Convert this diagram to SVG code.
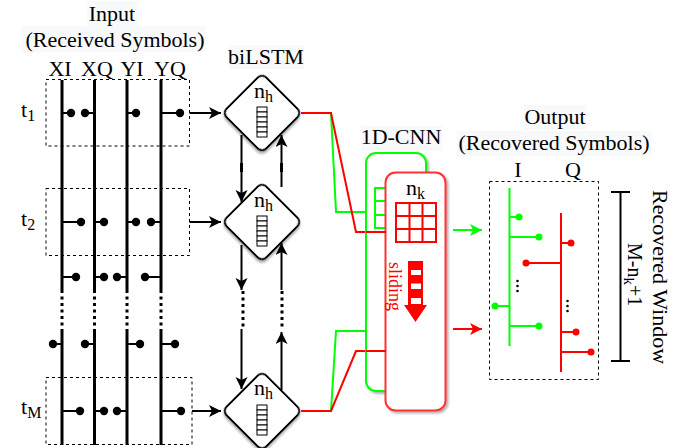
<svg xmlns="http://www.w3.org/2000/svg" width="693" height="448" viewBox="0 0 693 448">
<style>
text{font-family:"Liberation Serif","Times New Roman",serif;font-size:22px;fill:#000}
.lab{fill:#f8f9fa}
.box{fill:none;stroke:#000;stroke-width:1;stroke-dasharray:3 3}
.sym{fill:none;stroke:#000;stroke-width:3}
.dotted{fill:none;stroke:#000;stroke-width:3;stroke-dasharray:3 3.5}
.st{fill:none;stroke:#000;stroke-width:2}
.k{fill:#000}
.arr{fill:none;stroke:#000;stroke-width:2;marker-end:url(#ah)}
.dia{fill:#fff;stroke:#000;stroke-width:2;filter:url(#sh)}
.cell{fill:#fff;stroke:#000;stroke-width:1}
.g{fill:none;stroke:#0f0;stroke-width:2}
.r{fill:none;stroke:#f00;stroke-width:2}
.gd{fill:#0f0}.rd{fill:#f00}
</style>
<defs>
<marker id="ah" markerUnits="userSpaceOnUse" markerWidth="14" markerHeight="14" refX="12" refY="6" orient="auto"><path d="M0 0L12 6L0 12L3 6Z" fill="#000"/></marker>
<marker id="ag" markerUnits="userSpaceOnUse" markerWidth="14" markerHeight="14" refX="12" refY="6" orient="auto"><path d="M0 0L12 6L0 12L3 6Z" fill="#0f0"/></marker>
<marker id="ar" markerUnits="userSpaceOnUse" markerWidth="14" markerHeight="14" refX="12" refY="6" orient="auto"><path d="M0 0L12 6L0 12L3 6Z" fill="#f00"/></marker>
<filter id="sh" x="-20%" y="-20%" width="150%" height="150%"><feDropShadow dx="2" dy="2" stdDeviation="0.8" flood-color="#000" flood-opacity="0.3"/></filter>
<g id="stack"><rect class="cell" x="0" y="0" width="10" height="5"/><rect class="cell" x="0" y="5" width="10" height="5"/><rect class="cell" x="0" y="10" width="10" height="5"/><rect class="cell" x="0" y="15" width="10" height="5"/><rect class="cell" x="0" y="20" width="10" height="5"/><rect class="cell" x="0" y="25" width="10" height="5"/></g>
</defs>
<rect width="693" height="448" fill="#fff"/>
<g id="input">
<rect class="lab" x="87" y="1" width="51" height="25"/><rect class="lab" x="21" y="26" width="184" height="26"/>
<text x="112" y="21" text-anchor="middle">Input</text>
<text x="115" y="47" text-anchor="middle">(Received Symbols)</text>
<text x="60" y="76" text-anchor="middle">XI</text><text x="97" y="76" text-anchor="middle">XQ</text><text x="132" y="76" text-anchor="middle">YI</text><text x="170" y="76" text-anchor="middle">YQ</text>
<text x="21" y="117">t<tspan font-size="16" dy="4">1</tspan></text>
<text x="21" y="226">t<tspan font-size="16" dy="4">2</tspan></text>
<text x="21" y="414">t<tspan font-size="16" dy="4">M</tspan></text>
<rect class="box" x="46" y="79.500" width="143.500" height="66.500"/><rect class="box" x="46" y="188.500" width="143.500" height="67"/><rect class="box" x="46" y="377.500" width="146" height="67"/>
<path class="sym" d="M62 80V290M94.500 80V290M127 80V290M161 80V290M62 329V445M94.500 329V445M127 329V445M161 329V445"/>
<path class="dotted" d="M62 290V329M94.500 290V329M127 290V329M161 290V329"/>
<path class="st" d="M62 113H71M94.500 113H85M127 113H136M161 113H180M62 222H81M94.500 222H104M127 222H136M161 222H151M62 277H76M94.500 277H104M127 277H117M161 277H145M62 344H53M94.500 344H85M127 344H140M161 344H175M62 411H80M94.500 411H104M127 411H117M161 411H181"/>
<g class="k"><circle cx="71" cy="113" r="4.200"/><circle cx="85" cy="113" r="4.200"/><circle cx="136" cy="113" r="4.200"/><circle cx="180" cy="113" r="4.200"/><circle cx="81" cy="222" r="4.200"/><circle cx="104" cy="222" r="4.200"/><circle cx="136" cy="222" r="4.200"/><circle cx="151" cy="222" r="4.200"/><circle cx="76" cy="277" r="4.200"/><circle cx="104" cy="277" r="4.200"/><circle cx="117" cy="277" r="4.200"/><circle cx="145" cy="277" r="4.200"/><circle cx="53" cy="344" r="4.200"/><circle cx="85" cy="344" r="4.200"/><circle cx="140" cy="344" r="4.200"/><circle cx="175" cy="344" r="4.200"/><circle cx="80" cy="411" r="4.200"/><circle cx="104" cy="411" r="4.200"/><circle cx="117" cy="411" r="4.200"/><circle cx="181" cy="411" r="4.200"/></g>
</g>
<g id="connectors">
<path class="arr" d="M189.500 113H221"/><path class="arr" d="M189.500 222H221"/><path class="arr" d="M192 411H221"/>
<path class="arr" d="M241.500 135V202"/><path class="arr" d="M281.500 187V135"/>
<path class="arr" d="M241.500 245V290"/><path class="dotted" d="M243 291V329"/><path class="arr" d="M241.500 329V389"/>
<path class="arr" d="M281.500 290V243"/><path class="dotted" d="M282 291V330"/><path class="arr" d="M281.500 390V332"/>
<path d="M241.500 163V172M281.500 163V172" stroke="#000" stroke-width="3" fill="none"/>
<path class="g" d="M301 113H331L336 212H366"/><path class="r" d="M301 113H331L356 232H386"/>
<path class="g" d="M301 411H331L336 331H366"/><path class="r" d="M301 411H331L356 351H386"/>
<path class="g" marker-end="url(#ag)" d="M453 230H482"/><path class="r" marker-end="url(#ar)" d="M453 329H482"/>
</g>
<g id="bilstm-1"><rect class="dia" x="234" y="85" width="56" height="56" rx="6" transform="rotate(45 262 113)"/><text x="254" y="98">n<tspan font-size="16" dy="4">h</tspan></text><use href="#stack" x="257" y="107"/></g>
<g id="bilstm-2"><rect class="dia" x="234" y="194" width="56" height="56" rx="6" transform="rotate(45 262 222)"/><text x="254" y="207">n<tspan font-size="16" dy="4">h</tspan></text><use href="#stack" x="257" y="216"/></g>
<g id="bilstm-3"><rect class="dia" x="234" y="383" width="56" height="56" rx="6" transform="rotate(45 262 411)"/><text x="254" y="395">n<tspan font-size="16" dy="4">h</tspan></text><use href="#stack" x="257" y="405"/></g>
<rect class="lab" x="361" y="126" width="81" height="25"/><text x="401" y="144" text-anchor="middle">1D-CNN</text>
<rect class="lab" x="229" y="45" width="75" height="24"/><text x="266" y="64" text-anchor="middle">biLSTM</text>
<g id="cnn">
<rect class="g" x="366" y="153" width="60" height="238" rx="10" style="fill:#fff;filter:url(#sh)"/>
<path class="g" d="M386 188H375V228H386M375 201H386M375 215H386"/>
<rect x="385.500" y="172.500" width="60" height="238" rx="10" fill="#fff" stroke="#f33" stroke-width="2" filter="url(#sh)"/>
<path class="r" d="M366 232H386M366 351H386"/>
<text x="406" y="195">n<tspan font-size="16" dy="4">k</tspan></text>
<path class="r" d="M396 203H436V242H396ZM396 216H436M396 229H436M409.500 203V242M422.500 203V242"/>
<text x="0" y="0" style="fill:#f00;font-size:18px" transform="translate(389 262) rotate(90)">sliding</text>
<path d="M408 261H423V305H427L415.500 322L404 305H408Z" fill="#f00"/>
<path d="M411 270H421V275H411ZM411 283.500H421V289H411ZM411 298H421V304H411Z" fill="#fff"/>
</g>
<g id="output">
<rect class="lab" x="524" y="105" width="62" height="25"/><rect class="lab" x="457" y="131" width="195" height="25"/>
<text x="555" y="124" text-anchor="middle">Output</text>
<text x="554" y="150" text-anchor="middle">(Recovered Symbols)</text>
<text x="518" y="177" text-anchor="middle">I</text><text x="573" y="177" text-anchor="middle">Q</text>
<rect class="box" x="489.500" y="181.500" width="109" height="198"/>
<path class="g" d="M509.500 188V346M509.500 217H519M509.500 237H539M509.500 306H495M509.500 326H539"/>
<path class="r" d="M561 213V372M561 243H571M561 263H526M561 332H576M561 352H591"/>
<g class="gd"><circle cx="519" cy="217" r="3.500"/><circle cx="539" cy="237" r="3.500"/><circle cx="495" cy="306" r="3.500"/><circle cx="539" cy="326" r="3.500"/></g>
<g class="rd"><circle cx="571" cy="243" r="3.500"/><circle cx="526" cy="263" r="3.500"/><circle cx="576" cy="332" r="3.500"/><circle cx="591" cy="352" r="3.500"/></g>
<g class="k"><circle cx="517.500" cy="281" r="1.300"/><circle cx="517.500" cy="286" r="1.300"/><circle cx="517.500" cy="291" r="1.300"/><circle cx="567.500" cy="301" r="1.300"/><circle cx="567.500" cy="306" r="1.300"/><circle cx="567.500" cy="311" r="1.300"/></g>
<path class="st" d="M611 192H630M620.500 192V361M611 361H630"/>
<text transform="translate(653 190) rotate(90)">Recovered Window</text>
<text transform="translate(628 243) rotate(90)" style="font-size:20px">M-n<tspan font-size="15" dy="4">k</tspan><tspan dy="-4">+1</tspan></text>
</g>
</svg>
